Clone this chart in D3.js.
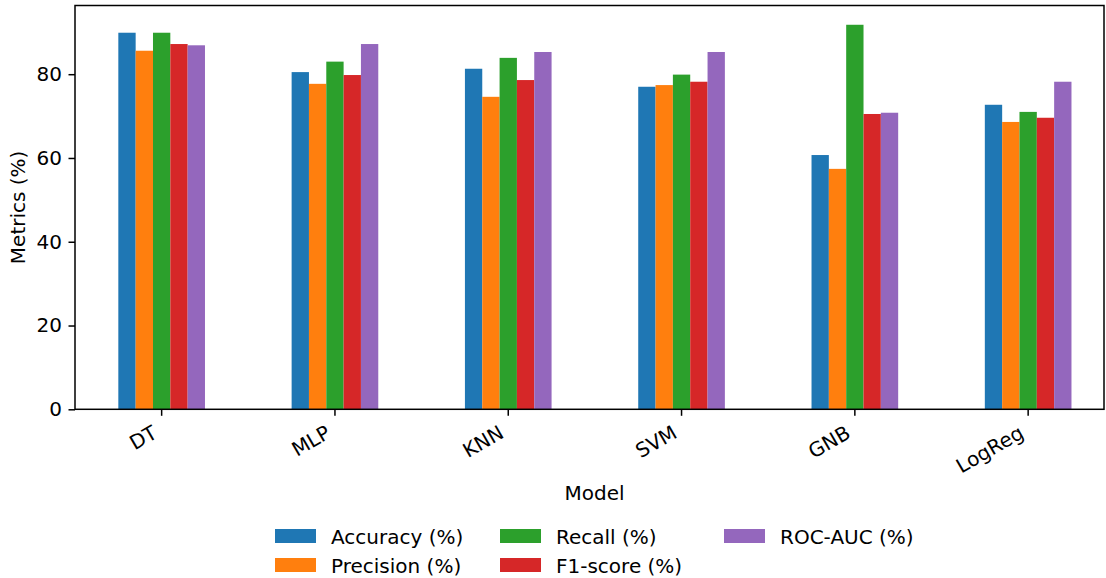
<!DOCTYPE html>
<html>
<head>
<meta charset="utf-8">
<script src="https://cdn.jsdelivr.net/npm/d3@7/dist/d3.min.js"></script>
<style>
  html, body { margin: 0; padding: 0; background: #fff; }
  svg { display: block; font-family: "DejaVu Sans", sans-serif; }
</style>
</head>
<body>
<svg id="chart" width="1106" height="578"></svg>
<script>
// Model comparison: five classification metrics per model
const models = ["DT", "MLP", "KNN", "SVM", "GNB", "LogReg"];
const metricNames = ["Accuracy (%)", "Precision (%)", "Recall (%)", "F1-score (%)", "ROC-AUC (%)"];
const accuracy  = [89.9, 80.5, 81.3, 77.0, 60.7, 72.7];
const precision = [85.6, 77.7, 74.6, 77.4, 57.4, 68.6];
const recall    = [89.9, 83.0, 83.9, 79.9, 91.8, 71.0];
const f1score   = [87.2, 79.8, 78.6, 78.2, 70.5, 69.6];
const rocauc    = [86.9, 87.2, 85.3, 85.3, 70.8, 78.2];
const yTicks = [0, 20, 40, 60, 80];
const colors = ["#1f77b4", "#ff7f0e", "#2ca02c", "#d62728", "#9467bd"];

const series = [accuracy, precision, recall, f1score, rocauc];

const svg = d3.select("#chart");
const plotLeft = 75, plotRight = 1104, plotTop = 5.5, plotBottom = 409.3;
const fs = 20;
const tickLen = 6.5, tickPad = 6.5, lineW = 1.5;

// one band per model; the bars of a group fill the middle half of the band
const step = 173.3;
const x = d3.scaleBand().domain(models).range([plotLeft, plotLeft + step * models.length]).padding(0);
const inner = d3.scaleBand().domain(d3.range(metricNames.length))
  .range([-x.bandwidth() * 0.25, x.bandwidth() * 0.25]).padding(0);
const y = d3.scaleLinear().domain([0, 96.4]).range([plotBottom, plotTop]);

// bars
const g = svg.append("g");
series.forEach((vals, si) => {
  g.selectAll(null).data(models).enter().append("rect")
    .attr("x", (m) => x(m) + x.bandwidth() / 2 + inner(si))
    .attr("width", inner.bandwidth())
    .attr("y", (m, i) => y(vals[i]))
    .attr("height", (m, i) => plotBottom - y(vals[i]))
    .attr("fill", colors[si]);
});

// frame
svg.append("rect").attr("x", plotLeft).attr("y", plotTop)
  .attr("width", plotRight - plotLeft).attr("height", plotBottom - plotTop)
  .attr("fill", "none").attr("stroke", "#000").attr("stroke-width", lineW);

// y axis
const yAxis = svg.append("g").attr("transform", `translate(${plotLeft},0)`)
  .call(d3.axisLeft(y).tickValues(yTicks).tickSize(tickLen).tickPadding(tickPad).tickFormat(d3.format("d")));
yAxis.select(".domain").remove();
yAxis.selectAll(".tick line").attr("stroke", "#000").attr("stroke-width", lineW);
yAxis.selectAll(".tick text").attr("font-size", fs).attr("fill", "#000")
  .attr("font-family", "DejaVu Sans");

// x axis with rotated labels
const xAxis = svg.append("g").attr("transform", `translate(0,${plotBottom})`)
  .call(d3.axisBottom(x).tickSize(tickLen).tickFormat(""));
xAxis.select(".domain").remove();
xAxis.selectAll(".tick line").attr("stroke", "#000").attr("stroke-width", lineW);

svg.append("g").selectAll("text").data(models).enter().append("text")
  .attr("transform", (m) => `translate(${x(m) + x.bandwidth() / 2 - 3},${plotBottom + 27.5}) rotate(-30)`)
  .attr("text-anchor", "end")
  .attr("font-size", fs).attr("fill", "#000")
  .text((m) => m);

// axis titles
svg.append("text").attr("x", 594.5).attr("y", 500)
  .attr("text-anchor", "middle").attr("font-size", fs).text("Model");
svg.append("text")
  .attr("transform", `translate(25,${(plotTop + plotBottom) / 2}) rotate(-90)`)
  .attr("text-anchor", "middle").attr("font-size", fs).text("Metrics (%)");

// legend: three columns, filled column by column
const legendCols = [275, 500, 724];
const legendRows = [529, 558];
const leg = svg.append("g");
metricNames.forEach((name, i) => {
  const col = Math.floor(i / 2), row = i % 2;
  const lx = legendCols[col], ly = legendRows[row];
  leg.append("rect").attr("x", lx).attr("y", ly).attr("width", 41).attr("height", 14)
    .attr("fill", colors[i]);
  leg.append("text").attr("x", lx + 56).attr("y", ly + 14.5)
    .attr("font-size", fs).attr("fill", "#000").text(name);
});
</script>
</body>
</html>
